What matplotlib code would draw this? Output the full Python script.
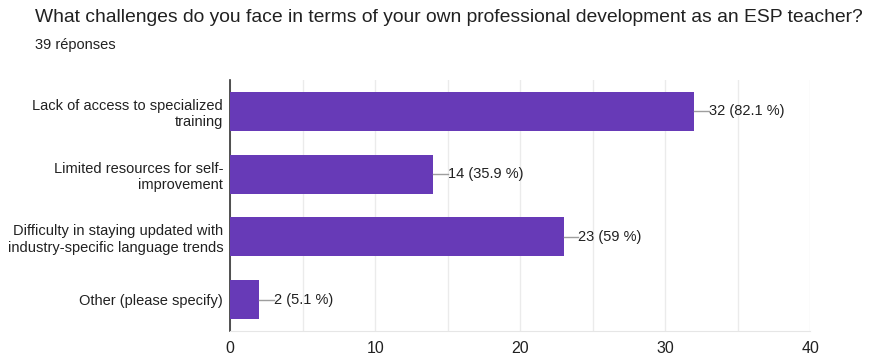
import matplotlib
matplotlib.use("Agg")
import matplotlib.pyplot as plt
import numpy as np

plt.rcParams["font.family"] = ["Liberation Sans", "DejaVu Sans"]

title = "What challenges do you face in terms of your own professional development as an ESP teacher?"
subtitle = "39 réponses"
categories = [
    "Lack of access to specialized\ntraining",
    "Limited resources for self-\nimprovement",
    "Difficulty in staying updated with\nindustry-specific language trends",
    "Other (please specify)",
]
counts = [32, 14, 23, 2]
percents = ["82.1", "35.9", "59", "5.1"]
xticks = [0, 10, 20, 30, 40]

BAR = "#673ab7"

fig = plt.figure(figsize=(8.75, 3.54), dpi=100)
ax = fig.add_axes([0.263, 0.065, 0.663, 0.709])

y = np.arange(len(categories))
ax.barh(y, counts, height=0.62, color=BAR, zorder=3)

# value labels with a short grey leader line
for yi, c, p in zip(y, counts, percents):
    ax.plot([c, c + 1.0], [yi, yi], color="#9e9e9e", lw=1, zorder=3)
    ax.text(c + 1.0, yi, f"{c} ({p} %)", va="center", ha="left",
            fontsize=10.5, color="#212121")

ax.set_xlim(0, 40)
ax.set_ylim(3.5, -0.5)
ax.set_xticks(xticks)
ax.set_xticks(np.arange(0, 41, 5), minor=True)
ax.set_xticklabels([str(t) for t in xticks], fontsize=11.5, color="#212121")
ax.tick_params(axis="x", which="both", length=0, pad=7)
ax.grid(axis="x", which="both", color="#ebebeb", lw=1, zorder=0)

ax.set_yticks(y)
ax.set_yticklabels(categories, fontsize=10.5, color="#212121")
for lbl in ax.get_yticklabels():
    lbl.set_multialignment("right")
ax.tick_params(axis="y", length=0, pad=5)

for side in ("top", "right"):
    ax.spines[side].set_visible(False)
ax.spines["bottom"].set_color("#e6e6e6")
ax.spines["left"].set_color("#333333")
ax.spines["left"].set_linewidth(1.2)

fig.text(35 / 875, 1 - 18 / 354, title, fontsize=13.9, color="#212121",
         va="center", ha="left")
fig.text(35 / 875, 1 - 45 / 354, subtitle, fontsize=10.5, color="#212121",
         va="center", ha="left")

fig.savefig("out.png", dpi=100)
